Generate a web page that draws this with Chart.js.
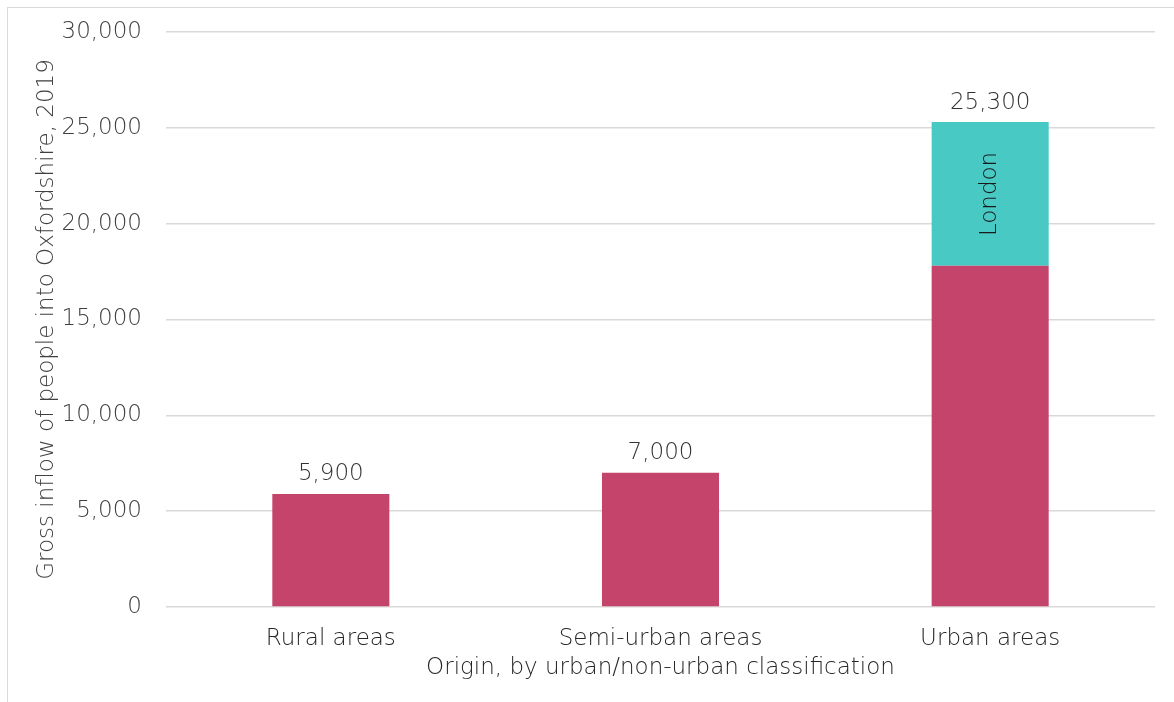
<!DOCTYPE html>
<html lang="en">
<head>
  <meta charset="UTF-8" />
  <title>Gross inflow into Oxfordshire, 2019</title>
  <script src="https://cdn.jsdelivr.net/npm/chart.js"></script>
  <style>
    body { margin: 0; background: #fff; font-family: 'DejaVu Sans', sans-serif; }
    .frame {
      position: absolute; left: 7px; top: 7px; width: 1300px; height: 800px;
      border-left: 1.5px solid #d9d9d9; border-top: 1.5px solid #d9d9d9;
    }
    .chart-box { position: absolute; left: 0; top: 0; width: 1174px; height: 702px; }
  </style>
</head>
<body>
  <div class="frame"></div>
  <div class="chart-box"><canvas id="inflowChart"></canvas></div>

  <script>
    const categories = ['Rural areas', 'Semi-urban areas', 'Urban areas'];
    const otherInflow = [5900, 7000, 17800];
    const londonInflow = [null, null, 7500];
    const yTicks = [0, 5000, 10000, 15000, 20000, 25000, 30000];

    const totals = categories.map((c, i) => (otherInflow[i] || 0) + (londonInflow[i] || 0));
    const fontFamily = "'DejaVu Sans', sans-serif";
    const fontWeight = 200;
    const fontSize = 23;

    const barLabels = {
      id: 'barLabels',
      afterDatasetsDraw(chart) {
        const ctx = chart.ctx;
        const x = chart.scales.x;
        const y = chart.scales.y;
        ctx.save();
        ctx.font = `${fontWeight} ${fontSize}px ${fontFamily}`;
        ctx.fillStyle = '#333333';
        ctx.textAlign = 'center';
        ctx.textBaseline = 'bottom';
        totals.forEach((t, i) => {
          ctx.fillText(t.toLocaleString('en-GB'), x.getPixelForValue(i), y.getPixelForValue(t) - 8);
        });
        // London label inside the teal segment
        londonInflow.forEach((v, i) => {
          if (!v) return;
          const mid = y.getPixelForValue(otherInflow[i] + v / 2);
          ctx.save();
          ctx.translate(x.getPixelForValue(i), mid);
          ctx.rotate(-Math.PI / 2);
          ctx.fillStyle = '#1a1a1a';
          ctx.textBaseline = 'middle';
          ctx.fillText('London', 0, 0);
          ctx.restore();
        });
        ctx.restore();
      }
    };

    new Chart(document.getElementById('inflowChart'), {
      type: 'bar',
      data: {
        labels: categories,
        datasets: [
          { label: 'Other', data: otherInflow, backgroundColor: '#c5446c', barPercentage: 0.355, categoryPercentage: 1 },
          { label: 'London', data: londonInflow, backgroundColor: '#48c9c4', barPercentage: 0.355, categoryPercentage: 1 }
        ]
      },
      options: {
        responsive: true,
        maintainAspectRatio: false,
        animation: false,
        layout: { padding: { top: 32, right: 19, bottom: 20, left: 0 } },
        plugins: { legend: { display: false }, tooltip: { enabled: false } },
        scales: {
          x: {
            stacked: true,
            grid: { display: false },
            border: { display: false },
            ticks: { color: '#262626', font: { family: fontFamily, size: fontSize, weight: fontWeight }, padding: 10 },
            title: {
              display: true,
              text: 'Origin, by urban/non-urban classification',
              color: '#262626',
              font: { family: fontFamily, size: fontSize, weight: fontWeight },
              padding: { top: 0, bottom: 0 }
            },
            afterFit(scale) { scale.height = 75; }
          },
          y: {
            stacked: true,
            min: 0,
            max: 30000,
            afterBuildTicks(scale) { scale.ticks = yTicks.map(v => ({ value: v })); },
            grid: { color: '#d9d9d9', lineWidth: 1.5, drawTicks: false },
            border: { display: false },
            ticks: {
              color: '#404040',
              font: { family: fontFamily, size: fontSize, weight: fontWeight },
              padding: 24,
              callback: v => v.toLocaleString('en-GB')
            },
            title: {
              display: true,
              text: 'Gross inflow of people into Oxfordshire, 2019',
              color: '#404040',
              font: { family: fontFamily, size: fontSize, weight: fontWeight },
              padding: { top: 33, bottom: 0 }
            },
            afterFit(scale) {
              scale.width = 166;
              scale.paddingTop = 0;
              scale.paddingBottom = 0;
            }
          }
        }
      },
      plugins: [barLabels]
    });
  </script>
</body>
</html>
